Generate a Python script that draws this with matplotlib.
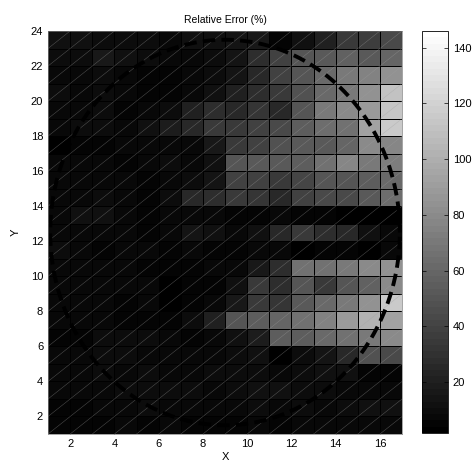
import numpy as np
import matplotlib
matplotlib.use("Agg")
import matplotlib.pyplot as plt
from matplotlib.collections import LineCollection

plt.rcParams['font.family'] = ['Liberation Sans', 'DejaVu Sans']
plt.rcParams['font.size'] = 8

# cell edges
x_edges = np.arange(1, 18)
y_edges = np.arange(1, 25)

# relative error (%) per cell, rows listed top (y=23..24) to bottom (y=1..2)
err_rows = [
    [11.8, 11.8, 10.0, 9.2, 9.2, 8.4, 11.8, 12.8, 14.8, 16.0, 4.5, 11.8, 21.5, 34.5, 35.7, 43.6],
    [10.0, 9.2, 16.0, 10.9, 9.2, 8.4, 7.7, 8.8, 13.8, 28.5, 37.9, 49.8, 52.6, 56.0, 52.1, 58.9],
    [8.0, 6.9, 9.2, 8.4, 5.3, 6.1, 8.4, 10.0, 14.8, 26.0, 37.9, 49.8, 61.7, 70.8, 74.1, 83.2],
    [9.2, 7.7, 9.2, 8.4, 6.1, 5.3, 8.4, 11.8, 21.5, 28.5, 34.5, 47.0, 61.7, 70.8, 83.2, 110.4],
    [8.4, 7.7, 9.2, 6.1, 6.9, 9.2, 21.5, 28.5, 24.5, 31.7, 26.0, 49.8, 70.8, 79.8, 88.3, 112.6],
    [8.4, 9.2, 9.2, 7.7, 12.8, 18.5, 26.0, 33.4, 33.4, 37.9, 43.6, 54.9, 64.0, 65.1, 92.3, 116.0],
    [3.3, 5.3, 4.5, 6.9, 8.0, 6.9, 7.7, 16.0, 34.5, 37.9, 47.0, 52.6, 52.6, 59.4, 79.8, 77.0],
    [7.7, 8.4, 7.7, 6.1, 8.0, 9.2, 6.9, 11.8, 49.8, 52.6, 52.6, 54.9, 65.1, 77.0, 70.8, 73.0],
    [8.0, 8.4, 8.0, 6.9, 6.1, 6.9, 9.6, 14.8, 37.9, 37.9, 33.4, 40.8, 49.8, 49.8, 54.9, 61.7],
    [8.4, 7.7, 9.2, 6.9, 5.3, 9.2, 24.5, 28.5, 34.5, 31.7, 26.0, 37.9, 43.6, 42.5, 52.6, 64.0],
    [7.7, 11.8, 10.9, 8.0, 6.1, 6.9, 8.0, 8.0, 4.5, 5.3, 8.0, 6.1, 5.3, 3.3, 3.3, 3.7],
    [8.4, 8.0, 8.4, 6.9, 6.1, 7.7, 13.8, 11.8, 6.9, 11.8, 26.0, 33.4, 28.5, 26.0, 11.8, 6.9],
    [9.2, 8.0, 5.3, 6.9, 6.9, 6.1, 6.9, 4.5, 5.3, 6.9, 7.7, 3.7, 5.3, 6.1, 3.0, 7.7],
    [8.4, 8.0, 8.0, 6.9, 5.3, 4.5, 5.3, 6.9, 6.9, 16.0, 28.5, 65.1, 65.1, 70.8, 79.8, 83.2],
    [7.7, 6.9, 8.0, 6.9, 6.9, 3.3, 4.5, 4.5, 11.8, 33.4, 28.5, 49.8, 34.5, 49.8, 56.0, 79.8],
    [7.7, 8.0, 7.7, 6.1, 6.9, 3.3, 4.5, 6.9, 16.0, 34.5, 31.7, 52.6, 61.7, 70.8, 83.2, 114.9],
    [7.7, 8.4, 8.0, 4.5, 4.5, 6.1, 9.2, 21.5, 49.8, 54.9, 59.4, 65.1, 74.1, 88.9, 101.3, 92.3],
    [4.5, 5.3, 9.2, 10.0, 9.2, 6.9, 4.5, 6.9, 11.8, 18.5, 54.9, 54.9, 61.7, 65.1, 70.8, 79.8],
    [8.0, 8.4, 9.2, 9.2, 8.0, 6.9, 6.9, 7.7, 9.2, 11.8, 3.3, 10.0, 13.8, 26.0, 47.0, 43.6],
    [8.0, 8.4, 10.0, 8.4, 9.2, 8.4, 7.7, 9.2, 9.2, 9.2, 8.4, 10.0, 11.8, 11.8, 5.3, 4.5],
    [6.9, 7.7, 8.4, 9.2, 10.0, 9.2, 9.2, 8.4, 9.2, 11.8, 10.9, 9.2, 9.2, 7.7, 6.9, 6.9],
    [4.5, 5.3, 7.7, 8.4, 9.2, 8.0, 8.4, 6.9, 7.7, 9.2, 8.4, 9.2, 8.4, 10.0, 10.9, 11.8],
    [6.1, 6.1, 5.3, 6.9, 5.3, 6.9, 6.1, 4.5, 6.1, 6.9, 6.1, 6.9, 6.9, 7.7, 6.9, 6.9],
]
err = np.flipud(np.array(err_rows))

clim = (1.7, 146)
x_ticks = [2, 4, 6, 8, 10, 12, 14, 16]
y_ticks = [2, 4, 6, 8, 10, 12, 14, 16, 18, 20, 22, 24]
cbar_ticks = [20, 40, 60, 80, 100, 120, 140]

# dashed boundary ellipse
cx, cy, rx, ry = 9.0, 12.5, 7.9, 11.0

fig = plt.figure(figsize=(4.73, 4.68), dpi=100)
ax = fig.add_axes([0.1015, 0.0726, 0.7485, 0.8612])
cax = fig.add_axes([0.892, 0.0748, 0.055, 0.859])

cmap = plt.get_cmap('gray', 64)
mesh = ax.pcolormesh(x_edges, y_edges, err, cmap=cmap, vmin=clim[0], vmax=clim[1],
                     edgecolors='black', linewidth=0.6)

# triangle diagonals
X, Y = np.meshgrid(x_edges[:-1], y_edges[:-1])
segs = [[(x, y), (x + 1, y + 1)] for x, y in zip(X.ravel(), Y.ravel())]
ax.add_collection(LineCollection(segs, colors='#a0a0a0', linewidths=0.35, alpha=0.5))

t = np.linspace(0, 2 * np.pi, 400)
ax.plot(cx + rx * np.cos(t), cy + ry * np.sin(t), color='black', lw=2.8,
        linestyle=(0, (3.2, 1.6)))

ax.set_xlim(1, 17)
ax.set_ylim(1, 24)
ax.set_xticks(x_ticks)
ax.set_yticks(y_ticks)
ax.tick_params(direction='in', length=3, width=0.5, top=False, right=False, labelsize=8)
for s in ax.spines.values():
    s.set_linewidth(0.5)
    s.set_color('#808080')
ax.set_title('Relative Error (%)', fontsize=7.5, pad=6)
ax.set_xlabel('X', fontsize=8, labelpad=2)
ax.set_ylabel('Y', fontsize=8, labelpad=7)

cb = fig.colorbar(mesh, cax=cax, ticks=cbar_ticks)
cb.outline.set_linewidth(0.6)
cax.tick_params(direction='in', length=3, width=0.5, left=True, right=True, labelsize=8)

fig.savefig('out.png', dpi=100)
